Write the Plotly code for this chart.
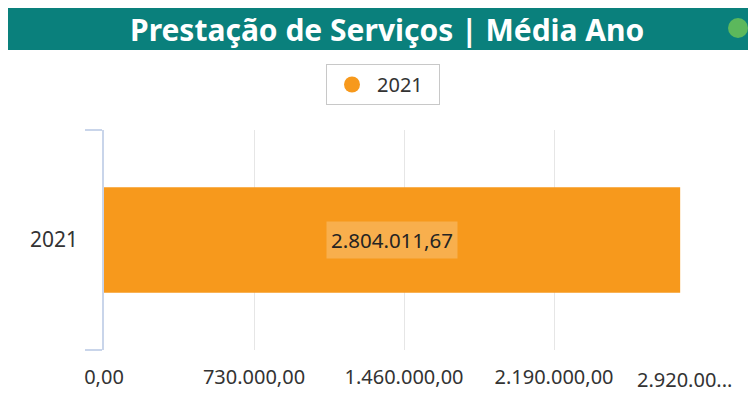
import plotly.graph_objects as go

categories = ["2021"]
values = [2804011.67]
series_name = "2021"
tick_vals = [0, 730000, 1460000, 2190000, 2920000]
tick_text = ["0,00", "730.000,00", "1.460.000,00", "2.190.000,00", ""]
last_tick_text = "2.920.00..."
label_text = ["2.804.011,67"]
title_text = "Prestação de Serviços | Média Ano"

W, H = 748, 416
L, R, T, B = 104, 44, 130, 66
pw, ph = W - L - R, H - T - B

def px(x):
    return (x - L) / pw

def py(y):
    return (H - B - y) / ph

ORANGE = "#F7991C"
TEAL = "#0A807C"
FONT = "Noto Sans"
TXT = "#333333"

fig = go.Figure()
fig.add_trace(go.Bar(
    y=categories, x=values, orientation="h",
    marker=dict(color=ORANGE, line=dict(width=0)),
    showlegend=False, hoverinfo="skip",
))
fig.add_trace(go.Scatter(
    x=[None], y=[None], mode="markers", name=series_name + "\u00a0\u00a0",
    marker=dict(symbol="circle", size=18, color=ORANGE),
))

for i, (v, t) in enumerate(zip(values, label_text)):
    fig.add_annotation(
        x=v / 2, y=i, xref="x", yref="y", text=t, showarrow=False,
        font=dict(family=FONT, size=20.5, color="#252423"),
        bgcolor="rgba(255,255,255,0.22)", borderpad=4,
    )

fig.add_annotation(
    x=tick_vals[-1], y=0, xref="x", yref="paper", yanchor="top",
    text=last_tick_text, showarrow=False, xshift=-20, yshift=-14,
    font=dict(family=FONT, size=20, color=TXT),
)

# title banner
fig.add_shape(type="rect", xref="paper", yref="paper",
              x0=px(8), x1=px(750), y0=py(50), y1=py(8),
              fillcolor=TEAL, line=dict(width=0), layer="below")
fig.add_shape(type="circle", xref="paper", yref="paper",
              x0=px(728), x1=px(748), y0=py(38), y1=py(18),
              fillcolor="#5CB85C", line=dict(width=0))
fig.add_annotation(
    x=px(387), y=py(29), xref="paper", yref="paper", text="<b>" + title_text + "</b>",
    showarrow=False, font=dict(family=FONT, size=30, color="white"),
    xanchor="center", yanchor="middle",
)

fig.update_layout(
    width=W, height=H,
    margin=dict(l=L, r=R, t=T, b=B, pad=0),
    paper_bgcolor="white", plot_bgcolor="white",
    bargap=0.52,
    font=dict(family=FONT, color=TXT),
    legend=dict(
        orientation="h", x=px(383), xanchor="center", y=py(64), yanchor="top",
        bordercolor="#C8C8C8", borderwidth=1, bgcolor="white",
        font=dict(family=FONT, size=20, color=TXT),
        itemwidth=40,
    ),
    xaxis=dict(
        range=[0, 2920000], tickvals=tick_vals, ticktext=tick_text,
        showgrid=True, gridcolor="#E6E6E6", gridwidth=1,
        zeroline=False, showline=False, ticks="",
        tickfont=dict(family=FONT, size=20, color=TXT),
        ticklabelstandoff=13,
    ),
    yaxis=dict(
        type="category", range=[-0.5, 0.5],
        showline=True, linecolor="#C9D5EA", linewidth=1.5,
        ticks="outside", tickson="boundaries", ticklen=17, tickcolor="#C9D5EA", tickwidth=1.5,
        showgrid=False, zeroline=False,
        tickfont=dict(family=FONT, size=21, color=TXT),
        ticklabelstandoff=20,
    ),
)

fig.write_html("out.html", config={"displayModeBar": False},
               post_script="document.body.style.margin='0';document.body.style.overflow='hidden';")
